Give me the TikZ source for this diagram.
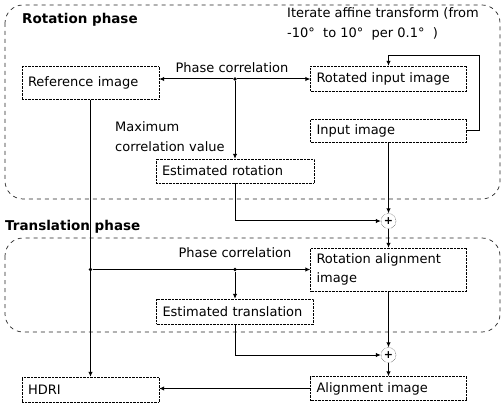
\documentclass[tikz,border=0pt]{standalone}
\usepackage{fontspec}
\setmainfont{DejaVu Sans}
\usetikzlibrary{positioning,arrows.meta,calc}

\tikzset{
  imgbox/.style 2 args={draw, densely dotted, rectangle, text width=#1,
    minimum height=#2, inner xsep=6pt, inner ysep=0pt, align=left,
    font=\fontsize{13}{19}\selectfont},
  lbl/.style={font=\fontsize{13}{20}\selectfont, inner sep=0pt},
  phase/.style={font=\bfseries\fontsize{13.5}{15}\selectfont, inner sep=0pt, anchor=west},
  frame/.style={dashed, dash pattern=on 4pt off 4pt, black!85, line width=0.7pt, rounded corners=18pt},
  flow/.style={-{Latex[length=5pt,width=4.5pt]}, line width=1pt},
  dot/.style={circle, fill, inner sep=1.4pt},
  sum/.style={circle, draw, densely dotted, minimum size=15pt, inner sep=0pt,
    font=\bfseries\fontsize{11}{11}\selectfont},
}

\begin{document}
\begin{tikzpicture}[x=1pt, y=-1pt]
    \useasboundingbox (0,0) rectangle (503,403);

    % Phase frames
    \draw[frame] (5,5) rectangle (500,199);
    \draw[frame] (5,238) rectangle (500,332);
    \node[phase] (rottitle) at (22,20) {Rotation phase};
    \node[phase] (transtitle) at (5,227) {Translation phase};

    % Image boxes
    \node[imgbox={125pt}{33pt}] (refimg) at (90.5,83) {Reference image};
    \node[imgbox={144pt}{25pt}] (rotin) at (388.5,78.5) {Rotated input image};
    \node[imgbox={144pt}{23pt}] (inimg) at (388.5,130.5) {Input image};
    \node[imgbox={146pt}{24pt}] (estrot) at (235,171) {Estimated rotation};
    \node[imgbox={144pt}{43pt}] (rotalign) at (388.5,269.5) {Rotation alignment\\image};
    \node[imgbox={145pt}{25pt}] (esttrans) at (235,311.5) {Estimated translation};
    \node[imgbox={125pt}{25pt}] (hdri) at (90.5,389.5) {HDRI};
    \node[imgbox={144pt}{24pt}] (alignimg) at (388.5,388.5) {Alignment image};

    % Summing points
    \node[sum] (sum1) at (388.5,221) {+};
    \node[sum] (sum2) at (388.5,355) {+};

    % Junctions
    \node[dot] (jrot) at (235,79) {};
    \node[dot] (jleft) at (refimg.south |- rotalign.west) {};
    \node[dot] (jtrans) at (235,269.5) {};

    % Labels
    \node[lbl] (pcrot) at (232,68) {Phase correlation};
    \node[lbl] (pctrans) at (235,253) {Phase correlation};
    \node[lbl, anchor=west, align=left] (maxcorr) at (115,137)
        {Maximum\\correlation value};
    \node[lbl, anchor=west, align=left] (iter) at (287,24)
        {Iterate affine transform (from\\-10°~~to 10°~~per 0.1°~~)};

    % Rotation phase
    \draw[flow] (jrot) -- (refimg.east |- jrot);
    \draw[flow] (jrot) -- (rotin.west |- jrot);
    \draw[flow] (jrot) -- (estrot.north);
    \draw[flow] (inimg.east) -| ++(13,-75) -| (rotin.north);
    \draw[flow] (inimg.south) -- (sum1.north);
    \draw[flow] (estrot.south) |- (sum1.west);

    % Translation phase
    \draw[flow] (refimg.south) -- (hdri.north);
    \draw[flow] (sum1.south) -- (rotalign.north);
    \draw[flow] (jleft) -- (rotalign.west);
    \draw[flow] (jtrans) -- (esttrans.north);
    \draw[flow] (rotalign.south) -- (sum2.north);
    \draw[flow] (esttrans.south) |- (sum2.west);
    \draw[flow] (sum2.south) -- (alignimg.north);
    \draw[flow] (alignimg.west) -- (hdri.east |- alignimg.west);
\end{tikzpicture}
\end{document}
